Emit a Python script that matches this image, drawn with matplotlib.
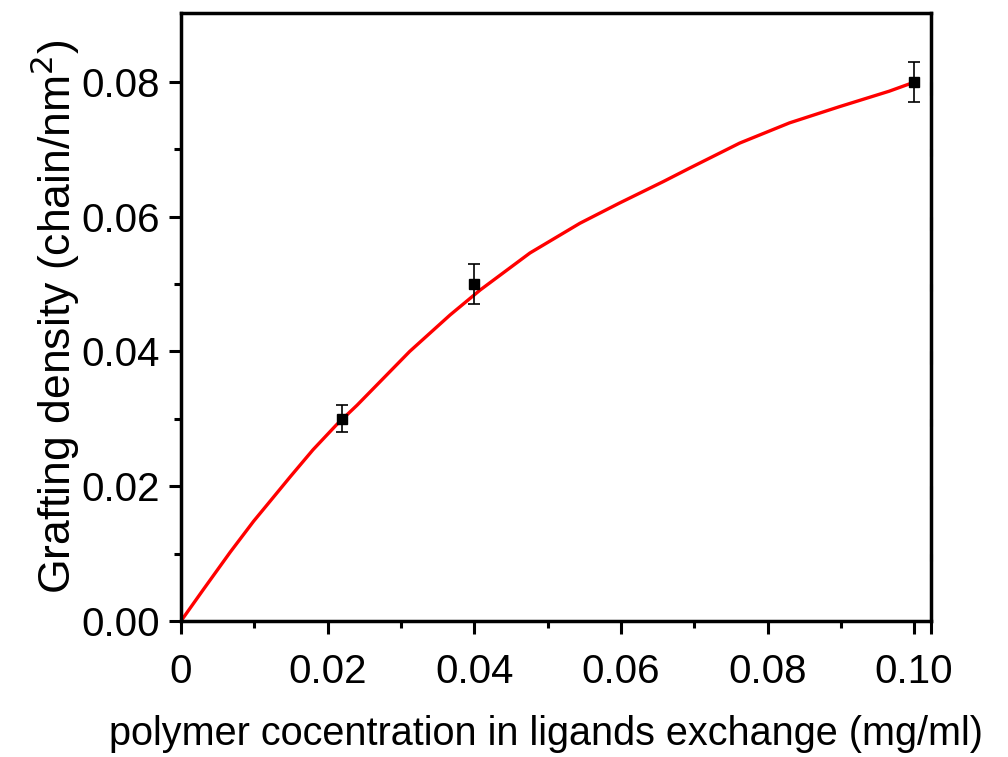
import numpy as np
import matplotlib.pyplot as plt
from matplotlib.ticker import MultipleLocator, FixedFormatter, FixedLocator

plt.rcParams['font.family'] = ['Liberation Sans', 'DejaVu Sans']

# measured points (mg/ml vs chain/nm^2)
conc = [0.022, 0.04, 0.10]
density = [0.030, 0.050, 0.080]
density_err = [0.002, 0.003, 0.003]

# fitted curve
fit_x = [0.0, 0.003, 0.0067, 0.0099, 0.0121, 0.0149, 0.018, 0.0212, 0.024,
         0.0258, 0.0312, 0.0367, 0.0408, 0.0476, 0.0544, 0.0598, 0.0658,
         0.0694, 0.0762, 0.083, 0.0898, 0.0966, 0.0994]
fit_y = [0.0, 0.0046, 0.0102, 0.0148, 0.0177, 0.0214, 0.0254, 0.0291, 0.0320,
         0.0340, 0.0400, 0.0454, 0.0491, 0.0546, 0.0590, 0.0620, 0.0652,
         0.0672, 0.0709, 0.0739, 0.0763, 0.0786, 0.0797]

x_ticks = [0, 0.02, 0.04, 0.06, 0.08, 0.10]
x_tick_labels = ["0", "0.02", "0.04", "0.06", "0.08", "0.10"]
y_ticks = [0, 0.02, 0.04, 0.06, 0.08]
y_minor = [0.01, 0.03, 0.05, 0.07]

fig = plt.figure(figsize=(10.08, 7.57), dpi=100)
ax = fig.add_axes([0.1796, 0.1797, 0.9236 - 0.1796, 0.9828 - 0.1797])

ax.plot(fit_x, fit_y, color='red', lw=2.4, zorder=2)
ax.errorbar(conc, density, yerr=density_err, fmt='s', color='black', ms=7,
            ecolor='black', elinewidth=1.2, capsize=4, capthick=1.2, zorder=3)

ax.set_xlim(0, 0.1023)
ax.set_ylim(0, 0.0902)

ax.xaxis.set_major_locator(FixedLocator(x_ticks))
ax.xaxis.set_major_formatter(FixedFormatter(x_tick_labels))
ax.xaxis.set_minor_locator(MultipleLocator(0.01))
ax.yaxis.set_major_locator(FixedLocator(y_ticks))
ax.yaxis.set_minor_locator(FixedLocator(y_minor))
ax.yaxis.set_major_formatter(plt.FormatStrFormatter('%.2f'))

for s in ax.spines.values():
    s.set_linewidth(2.5)

ax.tick_params(axis='both', which='major', direction='out', length=9, width=2.2,
               labelsize=29, top=False, right=True)
ax.tick_params(axis='both', which='minor', direction='out', length=5, width=2.2,
               top=False, right=True)
ax.tick_params(axis='x', which='major', pad=14)
ax.tick_params(axis='y', which='major', pad=6)

# right side ticks point inward
for t in ax.yaxis.get_major_ticks() + ax.yaxis.get_minor_ticks():
    t.tick2line.set_marker(3)

ax.set_xlabel("polymer cocentration in ligands exchange (mg/ml)", fontsize=28.5)
ax.xaxis.set_label_coords(0.487, -0.155)
ax.set_ylabel("Grafting density (chain/nm$^2$)", fontsize=32, labelpad=0)

fig.savefig("out.png", dpi=100)
